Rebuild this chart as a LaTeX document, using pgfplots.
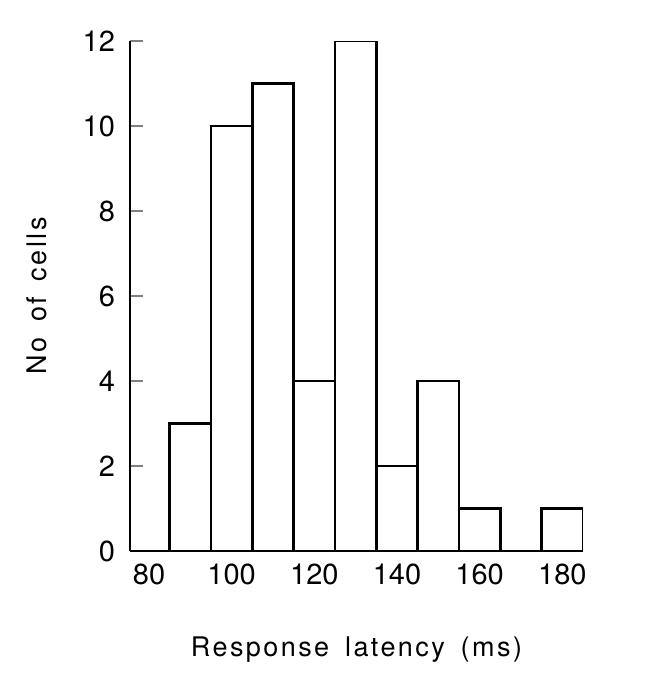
\documentclass[border=0pt]{standalone}
\usepackage{fontspec}
\setmainfont{TeX Gyre Heros}
\newfontfamily\labelfont{TeX Gyre Heros}[LetterSpace=9,WordSpace=1.6]
\usepackage{pgfplots}
\pgfplotsset{compat=1.18}

\begin{document}
\begin{tikzpicture}
  \useasboundingbox (-65pt,-65.5pt) rectangle (263pt,275.5pt);
  \begin{axis}[
      scale only axis,
      width=226.5pt,
      height=255pt,
      axis x line*=bottom,
      axis y line*=left,
      axis line style={line width=1.3pt},
      xmin=75.4, xmax=185,
      ymin=0, ymax=12,
      xtick={80,100,...,180},
      ytick={0,2,...,12},
      xtick style={draw=none},
      ytick style={line width=1.1pt},
      major tick length=6.5pt,
      tick label style={font=\fontsize{14.5}{16}\selectfont},
      /pgf/number format/assume math mode=true,
      yticklabel style={xshift=-4pt},
      xticklabel style={yshift=-3pt},
      xlabel={\labelfont Response latency (ms)},
      ylabel={\labelfont No of cells},
      label style={font=\fontsize{13.5}{15}\selectfont},
      xlabel style={yshift=-19pt},
      ylabel style={yshift=11pt},
  ]
    \addplot[ybar interval, draw=black, fill=none, line width=1.2pt] coordinates {
      (85,3) (95,10) (105,11) (115,4) (125,12) (135,2)
      (145,4) (155,1) (165,0) (175,1) (185,1)
    };
  \end{axis}
\end{tikzpicture}
\end{document}
